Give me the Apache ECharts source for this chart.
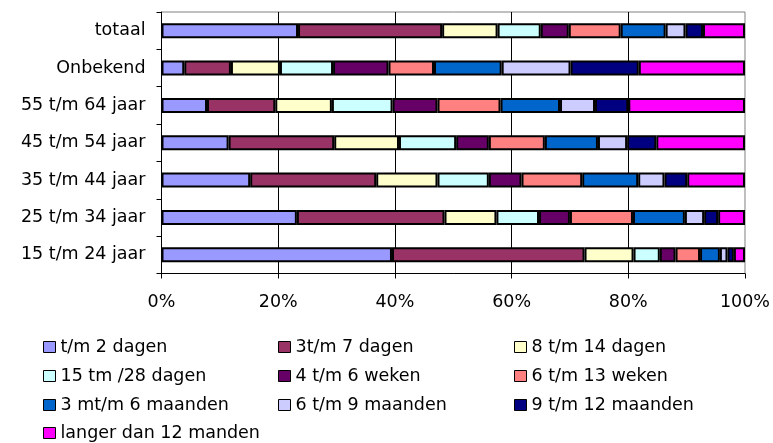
<!DOCTYPE html>
<html>
<head>
<meta charset="utf-8">
<script src="https://cdn.jsdelivr.net/npm/echarts@6/dist/echarts.min.js"></script>
<style>
  html, body { margin: 0; padding: 0; background: #fff; }
  #main { width: 773px; height: 443px; }
</style>
</head>
<body>
<div id="main"></div>
<script>
// categories from bottom to top
var categories = ['15 t/m 24 jaar', '25 t/m 34 jaar', '35 t/m 44 jaar', '45 t/m 54 jaar', '55 t/m 64 jaar', 'Onbekend', 'totaal'];
var xTicks = [0, 20, 40, 60, 80, 100];

var names = ['t/m 2 dagen', '3t/m 7 dagen', '8 t/m 14 dagen', '15 tm /28 dagen', '4 t/m 6 weken',
             '6 t/m 13 weken', '3 mt/m 6 maanden', '6 t/m 9 maanden', '9 t/m 12 maanden', 'langer dan 12 manden'];

// percentages per category (same order as categories)
var tm2dagen    = [39.5, 23.2, 15.2, 11.5,  7.8,  3.9, 23.4];
var tm7dagen    = [33.0, 25.3, 21.6, 18.1, 11.7,  8.0, 24.7];
var tm14dagen   = [ 8.4,  8.9, 10.5, 11.1,  9.7,  8.4,  9.5];
var tm28dagen   = [ 4.5,  7.3,  8.8,  9.8, 10.4,  9.1,  7.4];
var tm6weken    = [ 2.7,  5.3,  5.6,  5.6,  7.7,  9.5,  4.8];
var tm13weken   = [ 4.2, 10.8, 10.4,  9.6, 10.8,  7.8,  8.9];
var tm6maanden  = [ 3.4,  8.9,  9.6,  9.1, 10.2, 11.6,  7.7];
var tm9maanden  = [ 1.3,  3.3,  4.5,  5.0,  6.0, 11.8,  3.4];
var tm12maanden = [ 1.1,  2.4,  3.9,  5.0,  5.7, 11.7,  3.0];
var langer      = [ 1.9,  4.6,  9.9, 15.2, 20.0, 18.2,  7.2];

var values = [tm2dagen, tm7dagen, tm14dagen, tm28dagen, tm6weken, tm13weken, tm6maanden, tm9maanden, tm12maanden, langer];
var colors = ['#9999FF', '#993366', '#FFFFCC', '#CCFFFF', '#660066', '#FF8080', '#0066CC', '#CCCCFF', '#000080', '#FF00FF'];

var font = 'DejaVu Sans';
var fontSize = 17.5;

// legend: three columns, one legend per entry
var colX = [43, 278, 514];
var rowY = [338, 367, 396, 424];
var legends = names.map(function (n, i) {
  return {
    left: colX[i % 3],
    top: rowY[Math.floor(i / 3)],
    padding: 0,
    itemWidth: 12,
    itemHeight: 11,
    selectedMode: false,
    icon: 'rect',
    data: [n],
    itemStyle: { borderColor: '#000', borderWidth: 1 },
    textStyle: { fontFamily: font, fontSize: fontSize, color: '#000' }
  };
});

var series = names.map(function (n, i) {
  return {
    name: n,
    type: 'bar',
    stack: 'all',
    barWidth: 15,
    data: values[i],
    itemStyle: { color: colors[i], borderColor: '#000', borderWidth: 2 },
    emphasis: { disabled: true }
  };
});

var chart = echarts.init(document.getElementById('main'));
chart.setOption({
  backgroundColor: '#fff',
  animation: false,
  grid: {
    left: 161.5, right: 28, top: 12, bottom: 169.5,
    show: true, borderColor: '#808080', borderWidth: 1, backgroundColor: 'transparent'
  },
  legend: legends,
  xAxis: {
    type: 'value',
    min: 0, max: 100, interval: 20,
    axisLine: { show: true, lineStyle: { color: '#000', width: 1 } },
    axisTick: { show: true, length: 5, lineStyle: { color: '#000' } },
    axisLabel: {
      margin: 20, fontFamily: font, fontSize: fontSize, color: '#000',
      formatter: function (v) { return xTicks.indexOf(v) >= 0 ? v + '%' : ''; }
    },
    splitLine: { show: true, showMinLine: false, showMaxLine: false, lineStyle: { color: '#000', width: 1 } }
  },
  yAxis: {
    type: 'category',
    data: categories,
    axisLine: { show: true, lineStyle: { color: '#000', width: 1 } },
    axisTick: { show: true, length: 5, lineStyle: { color: '#000' } },
    axisLabel: { margin: 16, fontFamily: font, fontSize: fontSize, color: '#000' },
    splitLine: { show: false }
  },
  series: series
});
</script>
</body>
</html>
